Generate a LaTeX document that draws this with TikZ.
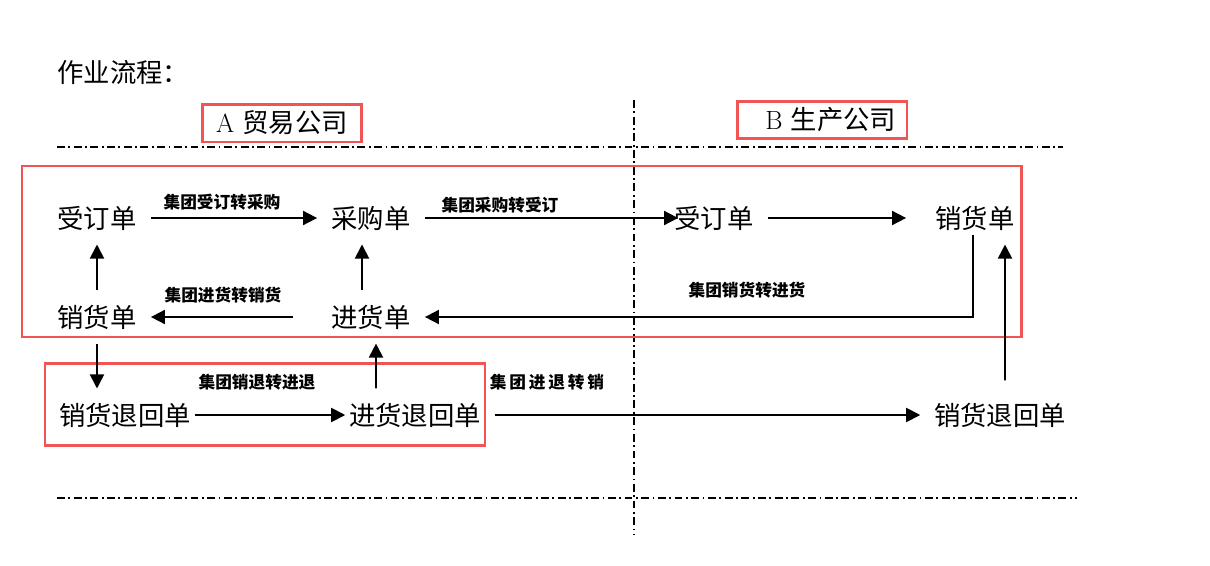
\documentclass[tikz,border=0pt]{standalone}
\usepackage{fontspec}
\newfontfamily\cjk{Noto Sans CJK SC}
\usetikzlibrary{arrows.meta}
\definecolor{framered}{RGB}{240,84,84}
\tikzset{
  doc/.style={font={\cjk\fontsize{15}{18}\selectfont}, inner xsep=0.28cm, inner ysep=0.28cm},
  retdoc/.style={doc, inner xsep=2pt},
  flow/.style={line width=1pt, -{Triangle[length=8pt,width=8pt]}},
  flowlbl/.style={font={\cjk\bfseries\fontsize{9.5}{11}\selectfont}, inner sep=1pt},
  divider/.style={line width=0.8pt, dash pattern=on 4.5pt off 2pt on 1pt off 2pt},
  company/.style={draw=framered, line width=1.7pt, font={\fontsize{15}{18}\selectfont}},
}
\begin{document}
\begin{tikzpicture}[x=0.02cm,y=-0.02cm]
    \useasboundingbox (0,0) rectangle (1210,565);

    % Heading
    \node[anchor=west, inner sep=0pt, font={\cjk\fontsize{15}{18}\selectfont}] (title) at (57,72) {作业流程：};

    % Company headers
    \node[company, minimum width=3.2cm, minimum height=0.76cm] (coA) at (282,123) {A {\cjk 贸易公司}};
    \node[company, minimum width=3.4cm, minimum height=0.72cm] (coB) at (822,120) {\hspace{0.35cm}B {\cjk 生产公司}};

    % Dividers
    \draw[divider] (57,147) -- (1063,147);
    \draw[divider] (57,498) -- (1077,498);
    \draw[divider] (634,100) -- (634,535);

    % Frames
    \draw[framered, line width=1.7pt] (22,166) rectangle (1021,337);
    \draw[framered, line width=1.7pt] (45,363) rectangle (485,445);

    % Documents
    \node[doc] (ddA) at (97,218) {受订单};
    \node[doc] (cgd) at (371,218) {采购单};
    \node[doc] (ddB) at (714,218) {受订单};
    \node[doc] (xhdB) at (975,218) {销货单};
    \node[doc] (xhdA) at (97,317) {销货单};
    \node[doc] (jhd) at (371,317) {进货单};
    \node[retdoc] (xtA) at (125,415) {销货退回单};
    \node[retdoc] (jtd) at (415,415) {进货退回单};
    \node[retdoc] (xtB) at (1000,415) {销货退回单};

    % Flows
    \draw[flow] (ddA) -- (cgd);
    \draw[flow] (cgd.east) -- ([xshift=0.36cm]ddB.west);
    \draw[flow] (ddB.east) -- ([xshift=-0.3cm]xhdB.west);
    \draw[flow] (xhdA) -- (ddA);
    \draw[flow] ([xshift=-0.18cm]jhd.north) -- ([xshift=-0.18cm]cgd.south);
    \draw[flow] ([xshift=-0.48cm]jhd.west) -- (xhdA.east);
    \draw[flow] ([xshift=-0.04cm,yshift=0.2cm]xhdB.south) |- (jhd.east);
    \draw[flow] (xhdA.south) -- (xhdA.south |- xtA.north);
    \draw[flow] ([xshift=-0.78cm]jtd.north) -- ([xshift=0.1cm]jhd.south);
    \draw[flow] (xtA.east) -- (jtd.west);
    \draw[flow] ([xshift=0.2cm]jtd.east) -- ([xshift=-0.2cm]xtB.west);
    \draw[flow] ([xshift=0.1cm,yshift=0.16cm]xtB.north) -- ([xshift=0.6cm]xhdB.south);

    % Flow labels
    \node[flowlbl] (l1) at (222,202) {集团受订转采购};
    \node[flowlbl] (l2) at (500,205) {集团采购转受订};
    \node[flowlbl] (l3) at (223,295) {集团进货转销货};
    \node[flowlbl] (l4) at (747,290) {集团销货转进货};
    \node[flowlbl] (l5) at (257,382) {集团销退转进退};
    \node[flowlbl] (l6) at (547,382) {集\,团\,进\,退\,转\,销};
\end{tikzpicture}
\end{document}
